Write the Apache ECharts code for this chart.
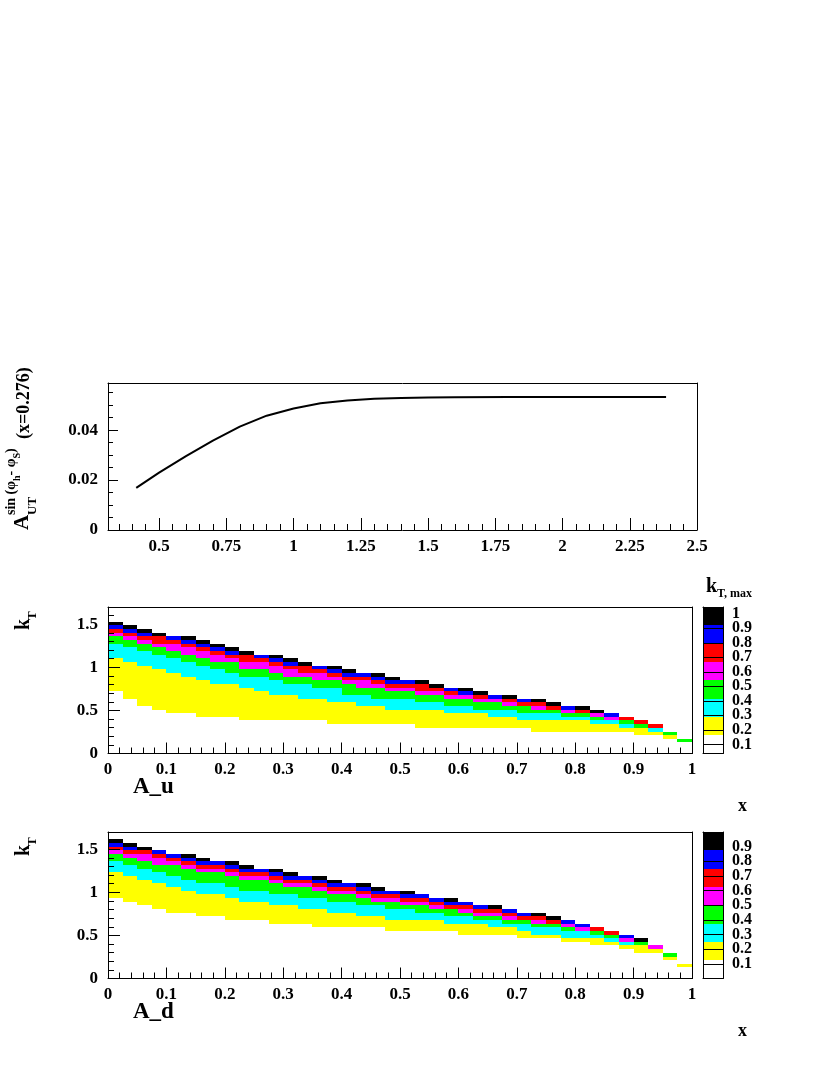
<!DOCTYPE html>
<html>
<head>
<meta charset="utf-8">
<style>
  html, body { margin: 0; padding: 0; background: #fff; }
  #main { width: 830px; height: 1075px; }
</style>
<script src="https://cdn.jsdelivr.net/npm/echarts@6/dist/echarts.min.js"></script>
</head>
<body>
<div id="main"></div>
<script>
// ---- top graph: A_UT vs kT,max ----
const ktMax = [0.415, 0.5, 0.6, 0.7, 0.8, 0.9, 1.0, 1.1, 1.2, 1.3, 1.4, 1.5, 1.6, 1.8, 2.0, 2.2, 2.385];
const asymUT = [0.0169, 0.0230, 0.0296, 0.0358, 0.0414, 0.0458, 0.0487, 0.0508, 0.0519, 0.0526, 0.0529, 0.0531, 0.0532, 0.0533, 0.0533, 0.0533, 0.0533];
const topXLabels = [0.5, 0.75, 1, 1.25, 1.5, 1.75, 2, 2.25, 2.5];
const topYLabels = [0, 0.02, 0.04];

// ---- 2D maps: 40 x-bins, band edges in kT per column ----
const xBins = [0, 0.025, 0.05, 0.075, 0.1, 0.125, 0.15, 0.175, 0.2, 0.225,
  0.25, 0.275, 0.3, 0.325, 0.35, 0.375, 0.4, 0.425, 0.45, 0.475,
  0.5, 0.525, 0.55, 0.575, 0.6, 0.625, 0.65, 0.675, 0.7, 0.725,
  0.75, 0.775, 0.8, 0.825, 0.85, 0.875, 0.9, 0.925, 0.95, 0.975];
const binW = 0.025;
const mapXLabels = [0, 0.1, 0.2, 0.3, 0.4, 0.5, 0.6, 0.7, 0.8, 0.9, 1];
const mapYLabels = [0, 0.5, 1, 1.5];

// A_u : lower edge of each colour band, and top of the filled region
const uYellow = [0.723,0.638,0.553,0.510,0.468,0.468,0.425,0.425,0.425,0.383, 0.383,0.383,0.383,0.383,0.383,0.340,0.340,0.340,0.340,0.340, 0.340,0.298,0.298,0.298,0.298,0.298,0.298,0.298,0.298,0.255, 0.255,0.255,0.255,0.255,0.255,0.255,0.213,0.213,0.170,0.128];
const uCyan = [1.105,1.063,1.020,0.978,0.935,0.893,0.850,0.808,0.808,0.765, 0.723,0.680,0.680,0.638,0.638,0.595,0.595,0.553,0.553,0.510, 0.510,0.510,0.510,0.468,0.468,0.468,0.425,0.425,0.383,0.383, 0.383,0.383,0.383,0.340,0.340,0.298,0.298,0.255,0.213,0.128];
const uGreen = [1.275,1.233,1.190,1.148,1.105,1.063,1.020,0.978,0.935,0.893, 0.893,0.850,0.808,0.808,0.765,0.765,0.680,0.680,0.638,0.638, 0.638,0.595,0.595,0.553,0.553,0.510,0.510,0.510,0.468,0.468, 0.468,0.425,0.425,0.383,0.383,0.340,0.298,0.298,0.213,0.128];
const uMagenta = [1.360,1.318,1.275,1.233,1.190,1.148,1.105,1.063,1.063,0.978, 0.978,0.935,0.893,0.893,0.850,0.850,0.808,0.765,0.765,0.723, 0.723,0.680,0.680,0.638,0.638,0.595,0.595,0.553,0.553,0.510, 0.510,0.468,0.468,0.425,0.383,0.383,0.340,0.298,0.255,0.170];
const uRed = [1.403,1.360,1.318,1.275,1.275,1.233,1.190,1.148,1.105,1.063, 1.063,1.020,0.978,0.935,0.935,0.893,0.850,0.850,0.808,0.765, 0.765,0.723,0.723,0.680,0.680,0.638,0.638,0.595,0.553,0.553, 0.510,0.510,0.468,0.468,0.425,0.383,0.340,0.298,0.255,0.170];
const uBlue = [1.445,1.403,1.360,1.360,1.318,1.275,1.233,1.190,1.148,1.148, 1.105,1.063,1.020,1.020,0.978,0.935,0.893,0.893,0.850,0.808, 0.808,0.808,0.765,0.723,0.680,0.680,0.638,0.638,0.595,0.595, 0.553,0.510,0.510,0.468,0.425,0.425,0.383,0.340,0.255,0.170];
const uBlack = [1.488,1.445,1.403,1.360,1.360,1.318,1.275,1.233,1.190,1.148, 1.148,1.105,1.063,1.020,1.020,0.978,0.935,0.935,0.893,0.850, 0.850,0.808,0.765,0.765,0.723,0.680,0.680,0.638,0.638,0.595, 0.553,0.553,0.510,0.468,0.468,0.425,0.383,0.340,0.255,0.170];
const uTop = [1.530,1.488,1.445,1.403,1.360,1.360,1.318,1.275,1.233,1.190, 1.148,1.148,1.105,1.063,1.020,1.020,0.978,0.935,0.935,0.893, 0.850,0.850,0.808,0.765,0.765,0.723,0.680,0.680,0.638,0.638, 0.595,0.553,0.553,0.510,0.468,0.425,0.383,0.340,0.255,0.170];

// A_d
const dYellow = [0.935,0.893,0.850,0.808,0.765,0.765,0.723,0.723,0.680,0.680, 0.680,0.638,0.638,0.638,0.595,0.595,0.595,0.595,0.595,0.553, 0.553,0.553,0.553,0.553,0.510,0.510,0.510,0.510,0.468,0.468, 0.468,0.425,0.425,0.383,0.383,0.340,0.298,0.298,0.213,0.128];
const dCyan = [1.233,1.190,1.148,1.105,1.063,1.020,0.978,0.978,0.935,0.893, 0.893,0.850,0.850,0.808,0.808,0.765,0.765,0.723,0.723,0.680, 0.680,0.680,0.680,0.638,0.638,0.638,0.595,0.595,0.553,0.510, 0.510,0.468,0.468,0.468,0.425,0.383,0.383,0.340,0.255,0.170];
const dGreen = [1.360,1.318,1.275,1.233,1.190,1.148,1.105,1.105,1.063,1.020, 1.020,0.978,0.978,0.935,0.935,0.893,0.893,0.850,0.850,0.808, 0.808,0.765,0.765,0.723,0.723,0.680,0.680,0.638,0.638,0.595, 0.595,0.553,0.553,0.510,0.468,0.425,0.383,0.340,0.255,0.170];
const dMagenta = [1.445,1.403,1.360,1.318,1.318,1.275,1.233,1.233,1.190,1.148, 1.148,1.105,1.063,1.063,1.020,0.978,0.978,0.935,0.893,0.893, 0.850,0.850,0.808,0.808,0.765,0.723,0.723,0.680,0.680,0.638, 0.638,0.595,0.553,0.553,0.510,0.425,0.425,0.340,0.298,0.170];
const dRed = [1.488,1.445,1.445,1.403,1.360,1.318,1.275,1.275,1.233,1.190, 1.190,1.148,1.105,1.105,1.063,1.020,1.020,0.978,0.935,0.935, 0.893,0.893,0.850,0.808,0.808,0.765,0.765,0.723,0.680,0.680, 0.638,0.638,0.595,0.553,0.510,0.468,0.425,0.383,0.298,0.170];
const dBlue = [1.530,1.488,1.488,1.445,1.403,1.360,1.318,1.318,1.275,1.233, 1.233,1.190,1.148,1.148,1.105,1.063,1.063,1.020,0.978,0.978, 0.935,0.935,0.893,0.850,0.850,0.808,0.808,0.765,0.723,0.723, 0.680,0.638,0.595,0.595,0.553,0.468,0.425,0.383,0.298,0.170];
const dBlack = [1.573,1.530,1.488,1.488,1.445,1.403,1.360,1.360,1.318,1.275, 1.275,1.233,1.190,1.190,1.148,1.105,1.105,1.063,1.020,1.020, 0.978,0.978,0.935,0.893,0.893,0.850,0.808,0.808,0.765,0.723, 0.680,0.680,0.638,0.595,0.553,0.510,0.425,0.383,0.298,0.170];
const dTop = [1.615,1.573,1.530,1.488,1.445,1.445,1.403,1.360,1.360,1.318, 1.275,1.275,1.233,1.190,1.190,1.148,1.105,1.105,1.063,1.020, 1.020,0.978,0.935,0.935,0.893,0.850,0.850,0.808,0.765,0.765, 0.723,0.680,0.638,0.595,0.553,0.510,0.468,0.383,0.298,0.170];

// palettes (z axis)
const paletteColors = ['#ffffff', '#ffff00', '#00ffff', '#00ff00', '#ff00ff', '#ff0000', '#0000ff', '#000000'];
const uPaletteEdges = [0.037, 0.163, 0.289, 0.416, 0.542, 0.668, 0.794, 0.921, 1.047];
const dPaletteEdges = [0, 0.125, 0.25, 0.375, 0.5, 0.625, 0.75, 0.875, 1.0];
const uPaletteLabels = [0.1, 0.2, 0.3, 0.4, 0.5, 0.6, 0.7, 0.8, 0.9, 1];
const dPaletteLabels = [0.1, 0.2, 0.3, 0.4, 0.5, 0.6, 0.7, 0.8, 0.9];

const FONT = '"Liberation Serif", "DejaVu Serif", serif';
const bandColors = paletteColors.slice(1);

function seq(a, b, s) {
  const out = [];
  for (let v = a; v <= b + 1e-9; v += s) out.push(Math.round(v * 1e6) / 1e6);
  return out;
}

function cells(edges) {
  const out = [];
  xBins.forEach((x0, i) => {
    for (let b = 0; b < 7; b++) {
      const lo = edges[b][i], hi = edges[b + 1][i];
      if (hi > lo) out.push([x0, x0 + binW, lo, hi, b]);
    }
  });
  return out;
}

function paletteData(edges) {
  return paletteColors.map((c, i) => [edges[i], edges[i + 1], i]);
}

const labelStyle = { fontFamily: FONT, fontWeight: 'bold', fontSize: 17, color: '#000', showMinLabel: true, showMaxLabel: true };

// main axis (labels + major ticks), minor-tick axis, and opposite frame line
function axisSet(dim, grid, min, max, labels, minors, majLen, minLen, margin) {
  const base = { type: 'value', gridIndex: grid, min: min, max: max, splitLine: { show: false }, z: 10, silent: true };
  const near = dim === 'x' ? 'bottom' : 'left';
  const far = dim === 'x' ? 'top' : 'right';
  return [
    Object.assign({}, base, {
      position: near,
      axisLine: { show: true, onZero: false, lineStyle: { color: '#000', width: 1 } },
      axisTick: { show: true, inside: true, length: majLen, customValues: labels, lineStyle: { color: '#000' } },
      axisLabel: Object.assign({ show: true, customValues: labels, margin: margin }, labelStyle)
    }),
    Object.assign({}, base, {
      position: near,
      axisLine: { show: false },
      axisTick: { show: true, inside: true, length: minLen, customValues: minors, lineStyle: { color: '#000' } },
      axisLabel: { show: false }
    }),
    Object.assign({}, base, {
      position: far,
      axisLine: { show: true, onZero: false, lineStyle: { color: '#000', width: 1 } },
      axisTick: { show: false },
      axisLabel: { show: false }
    })
  ];
}

// palette frame + tick lines across the bar; labels split over two axes so none get dropped
function paletteAxes(grid, edges, labels) {
  const min = edges[0], max = edges[edges.length - 1];
  const palLabel = Object.assign({}, labelStyle, { fontSize: 16, margin: 9 });
  const ys = [
    { type: 'value', gridIndex: grid, min, max, position: 'right', z: 10, silent: true,
      splitLine: { show: false },
      axisLine: { show: true, onZero: false, lineStyle: { color: '#000' } },
      axisTick: { show: true, inside: true, length: 20, customValues: labels, lineStyle: { color: '#000', width: 1 } },
      axisLabel: Object.assign({ show: true, customValues: labels.filter((v, i) => i % 2 === 0) }, palLabel) },
    { type: 'value', gridIndex: grid, min, max, position: 'right', z: 10, silent: true,
      splitLine: { show: false }, axisLine: { show: false }, axisTick: { show: false },
      axisLabel: Object.assign({ show: true, customValues: labels.filter((v, i) => i % 2 === 1) }, palLabel) },
    { type: 'value', gridIndex: grid, min, max, position: 'left', z: 10, silent: true,
      splitLine: { show: false }, axisTick: { show: false }, axisLabel: { show: false },
      axisLine: { show: true, onZero: false, lineStyle: { color: '#000' } } }
  ];
  const xs = ['bottom', 'top'].map(p => ({
    type: 'value', gridIndex: grid, min: 0, max: 1, position: p, z: 10, silent: true,
    splitLine: { show: false }, axisTick: { show: false }, axisLabel: { show: false },
    axisLine: { show: true, onZero: false, lineStyle: { color: '#000' } }
  }));
  return { xs, ys };
}

function renderCell(params, api) {
  const p0 = api.coord([api.value(0), api.value(3)]);
  const p1 = api.coord([api.value(1), api.value(2)]);
  const x0 = Math.round(p0[0]), y0 = Math.round(p0[1]);
  const x1 = Math.round(p1[0]), y1 = Math.round(p1[1]);
  return { type: 'rect', shape: { x: x0, y: y0, width: x1 - x0, height: y1 - y0 },
    style: { fill: bandColors[api.value(4)] } };
}

function renderPalette(params, api) {
  const p0 = api.coord([0, api.value(1)]);
  const p1 = api.coord([1, api.value(0)]);
  const x0 = Math.round(p0[0]), y0 = Math.round(p0[1]);
  const x1 = Math.round(p1[0]), y1 = Math.round(p1[1]);
  return { type: 'rect', shape: { x: x0, y: y0, width: x1 - x0, height: y1 - y0 },
    style: { fill: paletteColors[api.value(2)] } };
}

const topX = axisSet('x', 0, 0.31, 2.5, topXLabels, seq(0.35, 2.45, 0.05), 12, 6, 8);
const topY = axisSet('y', 0, 0, 0.0589, topYLabels, seq(0, 0.055, 0.005), 10, 5, 10);
const uX = axisSet('x', 1, 0, 1, mapXLabels, seq(0, 1, 0.02), 11, 6, 8);
const uY = axisSet('y', 1, 0, 1.7, mapYLabels, seq(0, 1.7, 0.1), 12, 6, 10);
const uPal = paletteAxes(2, uPaletteEdges, uPaletteLabels);
const dX = axisSet('x', 3, 0, 1, mapXLabels, seq(0, 1, 0.02), 11, 6, 8);
const dY = axisSet('y', 3, 0, 1.7, mapYLabels, seq(0, 1.7, 0.1), 12, 6, 10);
const dPal = paletteAxes(4, dPaletteEdges, dPaletteLabels);

const xAxes = [].concat(topX, uX, uPal.xs, dX, dPal.xs);
const yAxes = [].concat(topY, uY, uPal.ys, dY, dPal.ys);
const ix = { u: topX.length, uPal: topX.length + uX.length,
  d: topX.length + uX.length + uPal.xs.length, dPal: topX.length + uX.length + uPal.xs.length + dX.length };
const iy = { u: topY.length, uPal: topY.length + uY.length,
  d: topY.length + uY.length + uPal.ys.length, dPal: topY.length + uY.length + uPal.ys.length + dY.length };

const bold = (size) => ({ fontFamily: FONT, fontWeight: 'bold', fontSize: size, fill: '#000' });

function kTTitle(x, y) {
  return { type: 'group', x: x, y: y, rotation: Math.PI / 2, children: [
    { type: 'text', x: 0, y: 0, style: Object.assign({ text: 'k', textVerticalAlign: 'bottom' }, bold(20)) },
    { type: 'text', x: 10, y: 5, style: Object.assign({ text: 'T', textVerticalAlign: 'bottom' }, bold(13)) }
  ] };
}

const option = {
  animation: false,
  backgroundColor: '#fff',
  grid: [
    { left: 108, top: 383, width: 589, height: 147 },
    { left: 108, top: 607, width: 584, height: 146.5 },
    { left: 703, top: 607, width: 20, height: 146.5 },
    { left: 108, top: 832, width: 584, height: 146.5 },
    { left: 703, top: 832, width: 20, height: 146.5 }
  ],
  xAxis: xAxes,
  yAxis: yAxes,
  graphic: [
    { type: 'group', x: 33, y: 530, rotation: Math.PI / 2, children: [
      { type: 'text', x: 0, y: 0, style: Object.assign({ text: 'A', textVerticalAlign: 'bottom' }, bold(21)) },
      { type: 'text', x: 15, y: 6, style: Object.assign({ text: 'UT', textVerticalAlign: 'bottom' }, bold(13)) },
      { type: 'text', x: 15, y: -11, style: {
          text: '{s|sin (φ}{b|h}{s|- φ}{b|S}{s|)}', textVerticalAlign: 'bottom',
          rich: {
            s: { fontFamily: FONT, fontWeight: 'bold', fontSize: 14, lineHeight: 18, verticalAlign: 'top' },
            b: { fontFamily: FONT, fontWeight: 'bold', fontSize: 10, lineHeight: 18, verticalAlign: 'bottom' }
          } } },
      { type: 'text', x: 91, y: 0, style: Object.assign({ text: '(x=0.276)', textVerticalAlign: 'bottom' }, bold(18)) }
    ] },
    { type: 'text', x: 706, y: 597, style: Object.assign({ text: 'k', textVerticalAlign: 'bottom' }, bold(20)) },
    { type: 'text', x: 717, y: 600, style: Object.assign({ text: 'T, max', textVerticalAlign: 'bottom' }, bold(12)) },
    kTTitle(34, 630),
    kTTitle(34, 856),
    { type: 'text', x: 133, y: 799, style: Object.assign({ text: 'A_u', textVerticalAlign: 'bottom' }, bold(23)) },
    { type: 'text', x: 738, y: 815, style: Object.assign({ text: 'x', textVerticalAlign: 'bottom' }, bold(18)) },
    { type: 'text', x: 133, y: 1024, style: Object.assign({ text: 'A_d', textVerticalAlign: 'bottom' }, bold(23)) },
    { type: 'text', x: 738, y: 1040, style: Object.assign({ text: 'x', textVerticalAlign: 'bottom' }, bold(18)) }
  ],
  series: [
    { type: 'line', xAxisIndex: 0, yAxisIndex: 0, showSymbol: false, silent: true,
      lineStyle: { color: '#000', width: 2 },
      data: ktMax.map((k, i) => [k, asymUT[i]]) },
    { type: 'custom', xAxisIndex: ix.u, yAxisIndex: iy.u, renderItem: renderCell, silent: true,
      encode: { x: [0, 1], y: [2, 3] },
      data: cells([uYellow, uCyan, uGreen, uMagenta, uRed, uBlue, uBlack, uTop]) },
    { type: 'custom', xAxisIndex: ix.uPal, yAxisIndex: iy.uPal, renderItem: renderPalette, silent: true,
      encode: { y: [0, 1] }, data: paletteData(uPaletteEdges) },
    { type: 'custom', xAxisIndex: ix.d, yAxisIndex: iy.d, renderItem: renderCell, silent: true,
      encode: { x: [0, 1], y: [2, 3] },
      data: cells([dYellow, dCyan, dGreen, dMagenta, dRed, dBlue, dBlack, dTop]) },
    { type: 'custom', xAxisIndex: ix.dPal, yAxisIndex: iy.dPal, renderItem: renderPalette, silent: true,
      encode: { y: [0, 1] }, data: paletteData(dPaletteEdges) }
  ]
};

const chart = echarts.init(document.getElementById('main'));
chart.setOption(option);
</script>
</body>
</html>
